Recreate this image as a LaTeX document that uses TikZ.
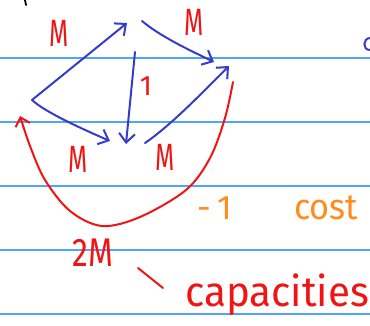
\documentclass[tikz,border=0pt]{standalone}
\usepackage{fontspec}
\setmainfont{Fira Sans}
\usetikzlibrary{arrows.meta}
\definecolor{pen}{RGB}{55,60,200}
\definecolor{rd}{RGB}{240,20,20}
\definecolor{org}{RGB}{255,140,30}
\definecolor{ruling}{RGB}{80,165,250}
\tikzset{
  ruleline/.style={ruling, line width=1.4pt},
  edge/.style={pen, line width=2pt, line cap=round, line join=round,
    -{Straight Barb[length=9pt,width=16pt,line width=2pt]}},
  back/.style={rd, line width=2pt, line cap=round, line join=round,
    -{Straight Barb[length=8pt,width=15pt,line width=2pt]}},
  lab/.style={inner sep=0pt, anchor=center},
  redlab/.style={lab, text=rd},
  orglab/.style={lab, text=org},
}
\newcommand{\fs}[1]{\fontsize{#1}{#1}\selectfont}
\begin{document}
\begin{tikzpicture}[x=1pt,y=-1pt]
\useasboundingbox (0,0) rectangle (370,326);
\foreach \yy in {58,122,186,250,314} \draw[ruleline] (0,\yy) -- (370,\yy);

% vertex points
\coordinate (L) at (32,100);
\coordinate (Ta) at (127,23);
\coordinate (Tb) at (142,21);
\coordinate (Tc) at (135,52);
\coordinate (Ra) at (214,62);
\coordinate (Rb) at (229,66);
\coordinate (Ba) at (110,141);
\coordinate (Bb) at (126,144);
\coordinate (Bc) at (145,143);
\coordinate (Rr) at (233,82);
\coordinate (Lr) at (20,116);

% blue network
\draw[edge] (L) -- (Ta);
\draw[edge] (Tb) .. controls (160,36) and (185,48) .. (Ra);
\draw[edge] (Tc) -- (Bb);
\draw[edge] (L) .. controls (45,112) and (80,128) .. (Ba);
\draw[edge] (Bc) .. controls (170,126) and (200,95) .. (Rb);

% red back edge
\draw[back] plot[smooth, tension=0.55] coordinates {(Rr) (225,118) (210,158) (186,190) (140,217) (102,226) (70,211) (45,180) (30,146) (Lr)};

% labels
\node[redlab] (m1) at (59,33) {\fs{38}\scalebox{0.65}[1]{M}};
\node[redlab] (m2) at (194,22) {\fs{38}\scalebox{0.65}[1]{M}};
\node[redlab] (one) at (146,86) {\fs{28}1};
\node[redlab] (m3) at (78,159) {\fs{38}\scalebox{0.65}[1]{M}};
\node[redlab] (m4) at (165,157) {\fs{38}\scalebox{0.65}[1]{M}};
\node[orglab] (neg) at (215,208) {\fs{34}-\,1};
\node[orglab] (cost) at (326,208) {\fs{36}\scalebox{0.95}[1]{cost}};
\node[redlab] (twoM) at (93,253) {\fs{40}\scalebox{0.8}[1]{2M}};
\node[redlab] (caps) at (277,295) {\fs{42}\scalebox{0.96}[1]{capacities}};

% slash
\coordinate (s1) at (138,268);
\coordinate (s2) at (163,288);
\draw[rd, line width=2pt, line cap=round] (s1) -- (s2);

% cut-off marks at the edges
\coordinate (k1) at (25,0);
\coordinate (k2) at (26,5);
\draw[black, line width=1.8pt, line cap=round] (k1) -- (k2);
\coordinate (c0) at (370,38);
\draw[pen, line width=2pt, line cap=round] (c0) .. controls (363,38) and (362,50) .. (370,50);
\end{tikzpicture}
\end{document}
